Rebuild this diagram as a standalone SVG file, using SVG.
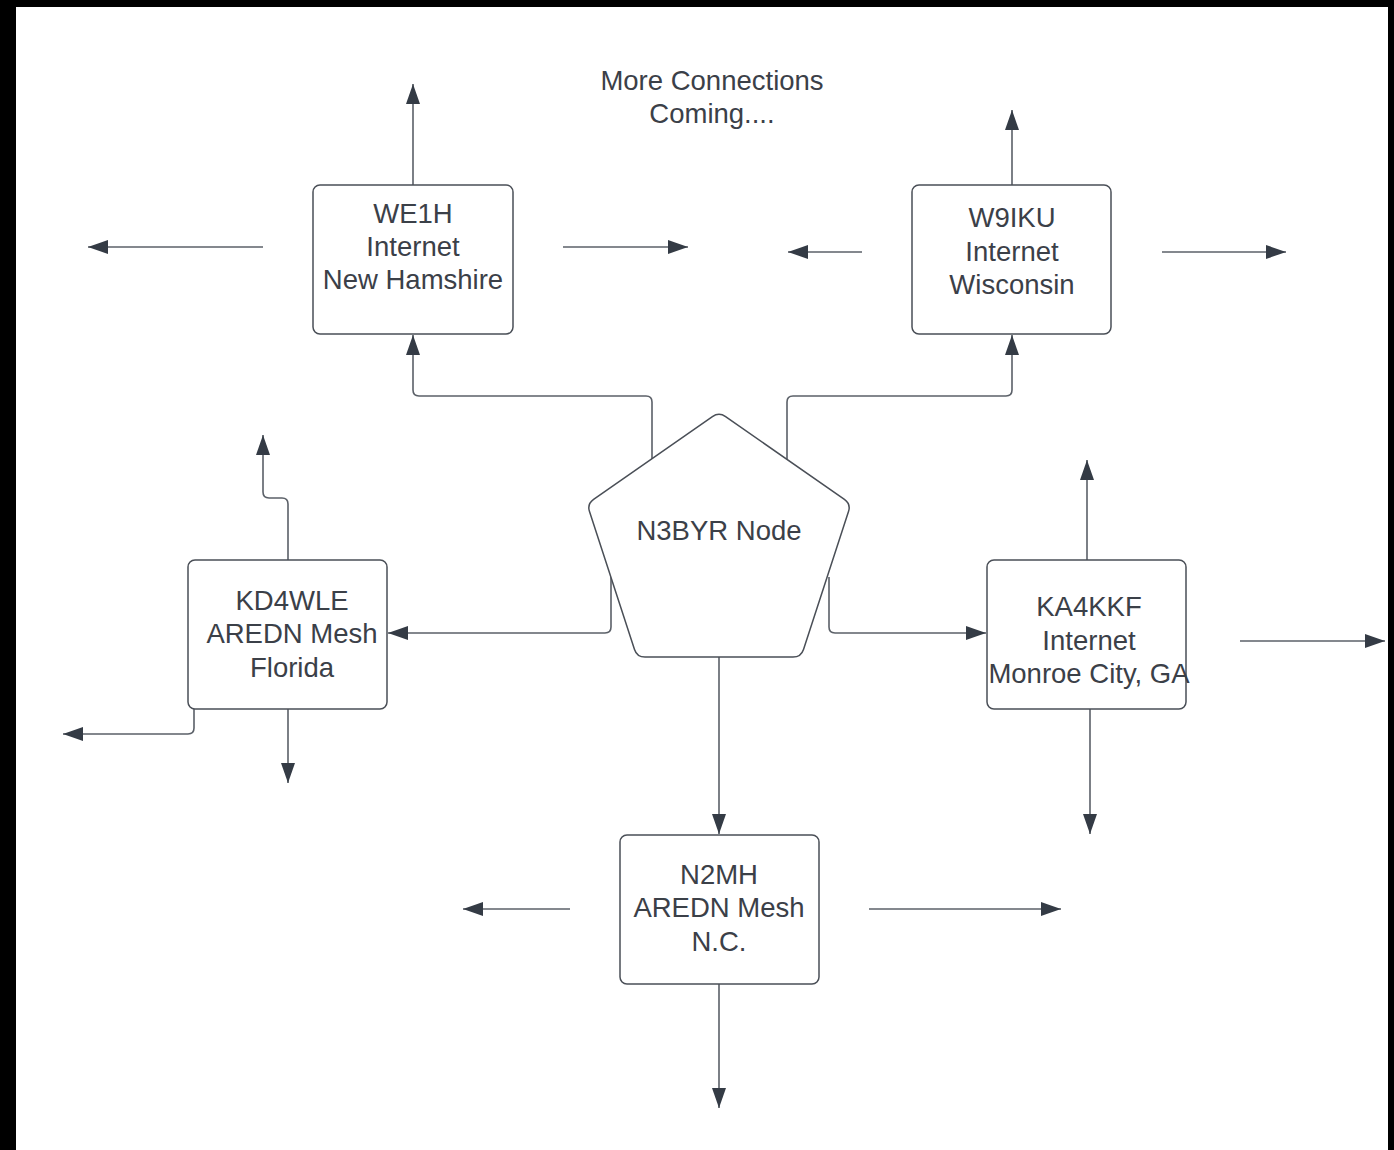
<svg xmlns="http://www.w3.org/2000/svg" width="1394" height="1150" viewBox="0 0 1394 1150">
<style>
.box{fill:#ffffff;stroke:#4a4f57;stroke-width:1.5}
.t{font-family:"Liberation Sans",Arial,sans-serif;font-size:27.5px;fill:#3b4048;text-anchor:middle}
.c{fill:none;stroke:#5b6068;stroke-width:1.6}
</style>
<defs>
<marker id="ah" markerUnits="userSpaceOnUse" markerWidth="21" markerHeight="15" refX="20" refY="7" orient="auto">
<path d="M0,0 L20,7 L0,14 Z" fill="#343b45"/>
</marker>
</defs>
<rect x="0" y="0" width="1394" height="1150" fill="#ffffff"/>
<rect x="0" y="0" width="1394" height="7" fill="#000000"/>
<rect x="0" y="0" width="16" height="1150" fill="#000000"/>
<rect x="1388" y="0" width="6" height="1150" fill="#000000"/>

<g id="connectors">
<path class="c" d="M652,459 V402 Q652,396 646,396 H419 Q413,396 413,390 V335" marker-end="url(#ah)"/>
<path class="c" d="M787,459 V402 Q787,396 793,396 H1006 Q1012,396 1012,390 V335" marker-end="url(#ah)"/>
<path class="c" d="M611,577 V627 Q611,633 605,633 H388" marker-end="url(#ah)"/>
<path class="c" d="M829,577 V627 Q829,633 835,633 H986" marker-end="url(#ah)"/>
<path class="c" d="M719,657 V834" marker-end="url(#ah)"/>
<path class="c" d="M413,185 V84" marker-end="url(#ah)"/>
<path class="c" d="M263,247 H88" marker-end="url(#ah)"/>
<path class="c" d="M563,247 H688" marker-end="url(#ah)"/>
<path class="c" d="M1012,185 V110" marker-end="url(#ah)"/>
<path class="c" d="M862,252 H788" marker-end="url(#ah)"/>
<path class="c" d="M1162,252 H1286" marker-end="url(#ah)"/>
<path class="c" d="M288,560 V504 Q288,498 282,498 H269 Q263,498 263,492 V435" marker-end="url(#ah)"/>
<path class="c" d="M194,709 V728 Q194,734 188,734 H63" marker-end="url(#ah)"/>
<path class="c" d="M288,709 V783" marker-end="url(#ah)"/>
<path class="c" d="M1087,560 V460" marker-end="url(#ah)"/>
<path class="c" d="M1090,697 V834" marker-end="url(#ah)"/>
<path class="c" d="M1240,641 H1385" marker-end="url(#ah)"/>
<path class="c" d="M570,909 H463" marker-end="url(#ah)"/>
<path class="c" d="M869,909 H1061" marker-end="url(#ah)"/>
<path class="c" d="M719,984 V1108" marker-end="url(#ah)"/>
</g>

<g id="note">
<text class="t" x="712" y="90">More Connections</text>
<text class="t" x="712" y="123">Coming....</text>
</g>

<g id="we1h">
<rect class="box" x="313" y="185" width="200" height="149" rx="7"/>
<text class="t" x="413" y="223">WE1H</text>
<text class="t" x="413" y="256">Internet</text>
<text class="t" x="413" y="289">New Hamshire</text>
</g>

<g id="w9iku">
<rect class="box" x="912" y="185" width="199" height="149" rx="7"/>
<text class="t" x="1012" y="227">W9IKU</text>
<text class="t" x="1012" y="261">Internet</text>
<text class="t" x="1012" y="294">Wisconsin</text>
</g>

<g id="n3byr">
<path class="box" d="M725.6,416.6 L844.4,499.4 Q851,504 848.5,511.6 L803.5,649.4 Q801,657 793,657 L645,657 Q637,657 634.5,649.4 L589.5,511.6 Q587,504 593.6,499.4 L712.4,416.6 Q719,412 725.6,416.6 Z"/>
<text class="t" x="719" y="540">N3BYR Node</text>
</g>

<g id="kd4wle">
<rect class="box" x="188" y="560" width="199" height="149" rx="7"/>
<text class="t" x="292" y="610">KD4WLE</text>
<text class="t" x="292" y="643">AREDN Mesh</text>
<text class="t" x="292" y="677">Florida</text>
</g>

<g id="ka4kkf">
<rect class="box" x="987" y="560" width="199" height="149" rx="7"/>
<text class="t" x="1089" y="616">KA4KKF</text>
<text class="t" x="1089" y="650">Internet</text>
<text class="t" x="1089" y="683">Monroe City, GA</text>
</g>

<g id="n2mh">
<rect class="box" x="620" y="835" width="199" height="149" rx="7"/>
<text class="t" x="719" y="884">N2MH</text>
<text class="t" x="719" y="917">AREDN Mesh</text>
<text class="t" x="719" y="951">N.C.</text>
</g>
</svg>
